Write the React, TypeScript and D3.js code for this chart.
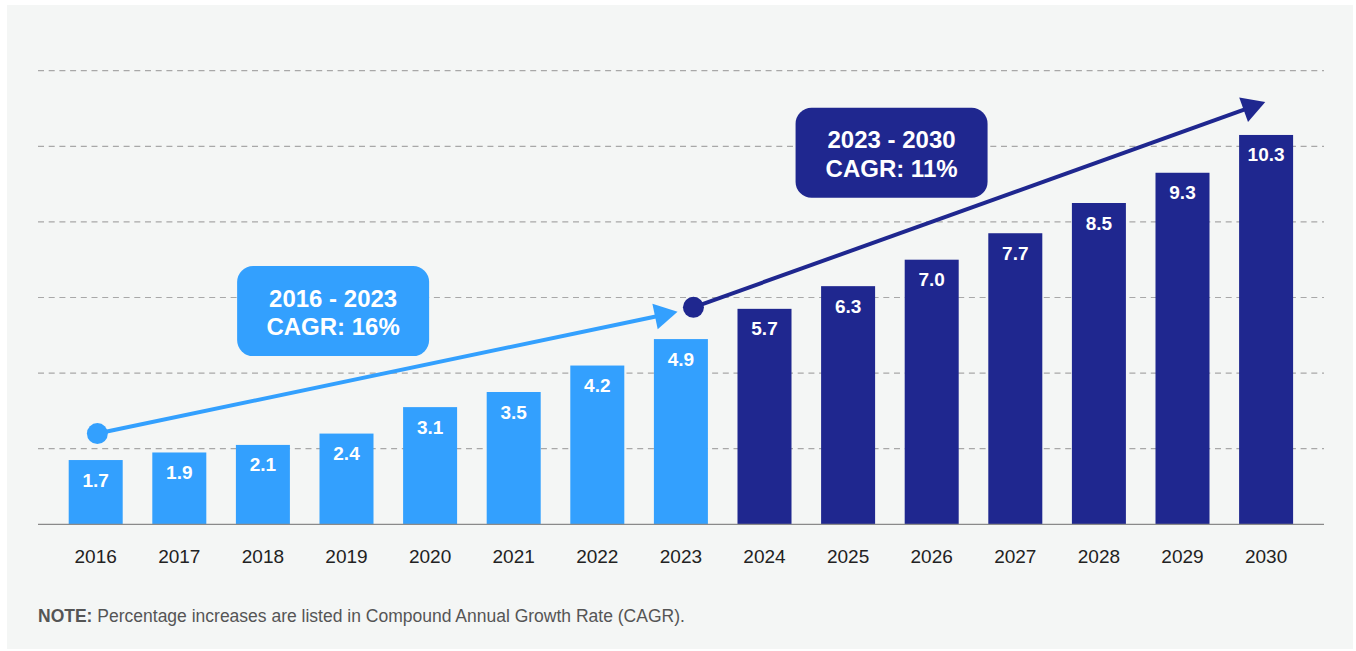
import React from "react";
import * as d3 from "d3";

const years = [2016, 2017, 2018, 2019, 2020, 2021, 2022, 2023, 2024, 2025, 2026, 2027, 2028, 2029, 2030];
const values = [1.7, 1.9, 2.1, 2.4, 3.1, 3.5, 4.2, 4.9, 5.7, 6.3, 7.0, 7.7, 8.5, 9.3, 10.3];
const gridValues = [2, 4, 6, 8, 10, 12];
const lastHistoricYear = 2023;

// annotations: [index position along years, value]
const cagrLabels = [
  { line1: "2016 - 2023", line2: "CAGR: 16%", at: [2.84, 5.64], from: [0.02, 2.4], to: [6.96, 5.62], dark: false },
  { line1: "2023 - 2030", line2: "CAGR: 11%", at: [9.52, 9.83], from: [7.15, 5.74], to: [13.99, 11.17], dark: true },
];
const noteBold = "NOTE:";
const noteText = " Percentage increases are listed in Compound Annual Growth Rate (CAGR).";

const W = 1356;
const H = 651;
const LIGHT = "#33a0fe";
const DARK = "#1f278f";
const FONT = "'Liberation Sans', Arial, Helvetica, sans-serif";

export default function App() {
  const x = d3
    .scaleBand<number>()
    .domain(years)
    .range([53.9, 1307.9])
    .paddingInner(0.354)
    .paddingOuter(0.177);
  const y = d3.scaleLinear().domain([0, 12]).range([524.3, 70.7]);
  const bw = x.bandwidth();
  const idx = d3
    .scaleLinear()
    .domain([0, years.length - 1])
    .range([x(years[0])! + bw / 2, x(years[years.length - 1])! + bw / 2]);

  const boxW = 192;
  const boxH = 90;

  const arrow = (a: (typeof cagrLabels)[number], i: number) => {
    const color = a.dark ? DARK : LIGHT;
    const x1 = idx(a.from[0]);
    const y1 = y(a.from[1]);
    const x2 = idx(a.to[0]);
    const y2 = y(a.to[1]);
    const ang = Math.atan2(y2 - y1, x2 - x1);
    const hl = 23;
    const hw = 13;
    const bx = x2 - hl * Math.cos(ang);
    const by = y2 - hl * Math.sin(ang);
    const px = -Math.sin(ang) * hw;
    const py = Math.cos(ang) * hw;
    return (
      <g key={"arrow" + i}>
        <line x1={x1} y1={y1} x2={bx + 2 * Math.cos(ang)} y2={by + 2 * Math.sin(ang)} stroke={color} strokeWidth={4} />
        <polygon points={`${x2},${y2} ${bx + px},${by + py} ${bx - px},${by - py}`} fill={color} />
        <circle cx={x1} cy={y1} r={10.5} fill={color} />
      </g>
    );
  };

  return (
    <svg width={W} height={H} style={{ position: "absolute", left: 0, top: 0 }} fontFamily={FONT}>
      <rect x={0} y={0} width={W} height={H} fill="#ffffff" />
      <rect x={7} y={5} width={1346} height={644} fill="#f4f6f5" />

      {gridValues.map((g) => (
        <line key={g} x1={38} x2={1324} y1={y(g)} y2={y(g)} stroke="#a8a8a8" strokeWidth={1.2} strokeDasharray="6 4.7" />
      ))}

      {years.map((yr, i) => (
        <g key={yr}>
          <rect
            x={x(yr)}
            y={y(values[i])}
            width={bw}
            height={y(0) - y(values[i])}
            fill={yr <= lastHistoricYear ? LIGHT : DARK}
          />
          <text
            x={x(yr)! + bw / 2}
            y={y(values[i]) + 26.5}
            textAnchor="middle"
            fill="#ffffff"
            fontWeight="bold"
            fontSize={19}
          >
            {values[i].toFixed(1)}
          </text>
          <text x={x(yr)! + bw / 2} y={562.5} textAnchor="middle" fill="#222" fontSize={19}>
            {yr}
          </text>
        </g>
      ))}

      <line x1={38} x2={1324} y1={y(0)} y2={y(0)} stroke="#8a8a8a" strokeWidth={1.3} />

      {cagrLabels.map((a, i) => arrow(a, i))}

      {cagrLabels.map((a, i) => {
        const cx = idx(a.at[0]);
        const cy = y(a.at[1]);
        return (
          <g key={"box" + i}>
            <rect x={cx - boxW / 2} y={cy - boxH / 2} width={boxW} height={boxH} rx={16} fill={a.dark ? DARK : LIGHT} />
            <text x={cx} y={cy - 4.5} textAnchor="middle" fill="#fff" fontWeight="bold" fontSize={24}>
              {a.line1}
            </text>
            <text x={cx} y={cy + 24} textAnchor="middle" fill="#fff" fontWeight="bold" fontSize={24}>
              {a.line2}
            </text>
          </g>
        );
      })}

      <text x={38} y={622} fontSize={17.5} fill="#555">
        <tspan fontWeight="bold">{noteBold}</tspan>
        <tspan>{noteText}</tspan>
      </text>
    </svg>
  );
}
